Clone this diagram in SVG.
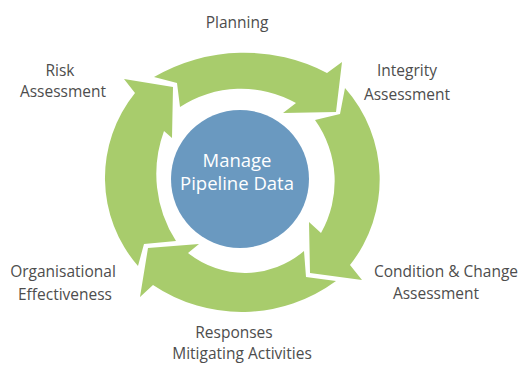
<svg xmlns="http://www.w3.org/2000/svg" width="532" height="365" viewBox="0 0 532 365">
  <style>
    .arrow { fill: #a8cc6c; stroke: none; }
    .lbl { font-family: "Open Sans", "Noto Sans", "Liberation Sans", sans-serif; font-size: 15.5px; fill: #4d4d4d; text-anchor: middle; }
    .hub-text { font-family: "Open Sans", "Noto Sans", "Liberation Sans", sans-serif; font-size: 18.5px; fill: #ffffff; text-anchor: middle; }
  </style>
  <rect width="532" height="365" fill="#ffffff"/>

  <g id="connectors">
    <path id="arrow-top" class="arrow" d="M154,77 A179,179 0 0 1 327,73 L342,62 L336,112 L283,113 L296,103 A112,112 0 0 0 180,107 L177,83 Z"/>
    <path id="arrow-right" class="arrow" d="M345,88 A138,138 0 0 1 350,265 L362,280 L310,273 L309,222 L321,233 A105,105 0 0 0 315,120 L340,114 Z"/>
    <path id="arrow-bottom" class="arrow" d="M336,281 A159,159 0 0 1 153,285 L140,297 L148,248 L199,244 L188,253 A91,91 0 0 0 304,251 L306,277 Z"/>
    <path id="arrow-left" class="arrow" d="M138,266 A134.5,134.5 0 0 1 135,93 L124,79 L173,87 L172,138 L164,131 A124,124 0 0 0 176,241 L144,244 Z"/>
  </g>

  <g id="hub">
    <circle cx="240" cy="179" r="69" fill="#6a99c0"/>
    <text class="hub-text" x="237" y="167">Manage</text>
    <text class="hub-text" x="237" y="190">Pipeline Data</text>
  </g>

  <g id="planning">
    <text class="lbl" x="237" y="28">Planning</text>
  </g>
  <g id="integrity-assessment">
    <text class="lbl" x="407" y="76">Integrity</text>
    <text class="lbl" x="407" y="100">Assessment</text>
  </g>
  <g id="condition-change-assessment">
    <text class="lbl" x="446" y="277">Condition &amp; Change</text>
    <text class="lbl" x="436" y="299">Assessment</text>
  </g>
  <g id="responses">
    <text class="lbl" x="234" y="338">Responses</text>
    <text class="lbl" x="242" y="359">Mitigating Activities</text>
  </g>
  <g id="organisational-effectiveness">
    <text class="lbl" x="63" y="277">Organisational</text>
    <text class="lbl" x="65" y="300">Effectiveness</text>
  </g>
  <g id="risk-assessment">
    <text class="lbl" x="60" y="76">Risk</text>
    <text class="lbl" x="63" y="97">Assessment</text>
  </g>
</svg>
